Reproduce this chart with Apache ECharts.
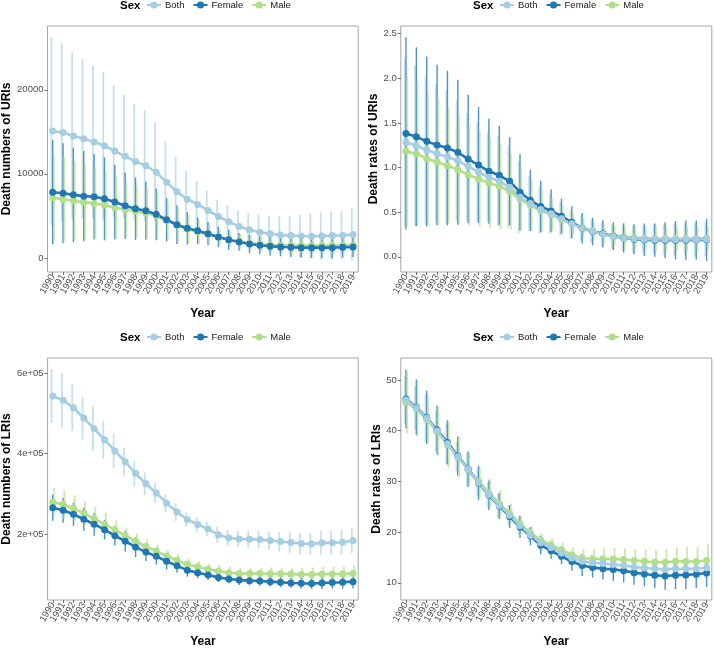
<!DOCTYPE html>
<html><head><meta charset="utf-8">
<script src="https://cdn.jsdelivr.net/npm/echarts@6/dist/echarts.min.js"></script>
<style>html,body{margin:0;padding:0;background:#fff}#c{width:714px;height:649px}</style>
</head><body><div id="c"></div>
<script>
const years = [1990,1991,1992,1993,1994,1995,1996,1997,1998,1999,2000,2001,2002,2003,2004,2005,2006,2007,2008,2009,2010,2011,2012,2013,2014,2015,2016,2017,2018,2019];
const sexes = ['Both','Female','Male'];

// Panel 1: Death numbers of URIs
const uriNumBoth   = [15090,14930,14500,14180,13790,13350,12720,12090,11460,10980,10190,9000,7860,6990,6360,5650,4940,4300,3750,3360,3040,2880,2730,2650,2610,2570,2610,2650,2690,2770];
const uriNumBothHi = [26270,25560,24410,23700,22910,22120,20540,19430,18330,17580,16080,13900,12050,10390,9160,7980,6910,6240,5650,5330,5140,5020,4940,5020,5100,5250,5410,5490,5570,5890];
const uriNumBothLo = [3910,4300,4590,4660,4670,4580,4900,4750,4590,4380,4300,4100,3670,3590,3560,3320,2970,2360,1850,1390,940,740,520,280,120,-110,-190,-190,-190,-350];
const uriNumFem    = [7820,7700,7500,7350,7270,7030,6640,6200,5850,5610,5180,4540,3950,3520,3240,2880,2490,2170,1900,1660,1500,1380,1300,1260,1220,1220,1220,1220,1260,1300];
const uriNumFemHi  = [14020,13630,13110,12720,12360,11970,11100,10150,9560,9050,8260,7110,6240,5450,4820,4270,3710,3360,2960,2770,2570,2490,2410,2410,2410,2450,2490,2490,2490,2490];
const uriNumFemLo  = [1620,1770,1890,1980,2180,2090,2180,2250,2140,2170,2100,1970,1660,1590,1660,1490,1270,980,840,550,430,270,190,110,30,-10,-50,-50,30,110];
const uriNumMale   = [7150,6990,6790,6640,6480,6280,6000,5770,5570,5330,5020,4420,3910,3400,3080,2770,2450,2170,1940,1740,1620,1540,1500,1460,1460,1460,1460,1460,1500,1500];
const uriNumMaleHi = [12250,12050,11460,11140,10670,10270,9680,9090,8690,8300,7820,6720,5930,5140,4540,3950,3440,3080,2800,2650,2490,2410,2410,2410,2410,2410,2410,2410,2410,2410];
const uriNumMaleLo = [2050,1930,2120,2140,2290,2290,2320,2450,2450,2360,2220,2120,1890,1660,1620,1590,1460,1260,1080,830,750,670,590,510,510,510,510,510,590,590];
const uriNumTicks  = [0,10000,20000];

// Panel 2: Death rates of URIs
const uriRateBoth   = [1.282,1.244,1.196,1.155,1.118,1.077,1.013,0.950,0.890,0.846,0.779,0.667,0.596,0.529,0.481,0.425,0.369,0.320,0.287,0.253,0.227,0.212,0.201,0.197,0.194,0.194,0.194,0.194,0.194,0.197];
const uriRateBothHi = [2.224,2.142,2.019,1.934,1.863,1.751,1.610,1.509,1.393,1.349,1.237,1.069,0.902,0.790,0.704,0.615,0.537,0.462,0.417,0.387,0.365,0.358,0.350,0.350,0.358,0.365,0.373,0.373,0.380,0.387];
const uriRateBothLo = [0.340,0.346,0.373,0.376,0.373,0.403,0.416,0.391,0.387,0.343,0.321,0.265,0.290,0.268,0.258,0.235,0.201,0.178,0.157,0.119,0.089,0.066,0.052,0.044,0.030,0.023,0.016,0.016,0.008,0.007];
const uriRateFem    = [1.382,1.345,1.293,1.252,1.218,1.170,1.095,1.028,0.958,0.913,0.846,0.723,0.633,0.563,0.514,0.455,0.387,0.320,0.283,0.257,0.231,0.212,0.197,0.190,0.186,0.186,0.186,0.186,0.190,0.190];
const uriRateFemHi  = [2.459,2.347,2.243,2.150,2.083,1.982,1.815,1.677,1.546,1.468,1.338,1.148,0.976,0.853,0.753,0.652,0.566,0.492,0.436,0.410,0.387,0.376,0.365,0.373,0.373,0.387,0.399,0.406,0.406,0.425];
const uriRateFemLo  = [0.305,0.343,0.343,0.354,0.353,0.358,0.375,0.379,0.370,0.358,0.354,0.298,0.290,0.273,0.275,0.258,0.208,0.148,0.130,0.104,0.075,0.048,0.029,0.007,0.000,-0.015,-0.027,-0.034,-0.030,-0.045];
const uriRateMale   = [1.181,1.155,1.099,1.062,1.021,0.976,0.920,0.872,0.827,0.790,0.734,0.648,0.577,0.518,0.473,0.417,0.373,0.324,0.291,0.261,0.238,0.224,0.216,0.209,0.205,0.205,0.205,0.205,0.205,0.209];
const uriRateMaleHi = [2.019,1.963,1.841,1.766,1.665,1.583,1.490,1.405,1.330,1.274,1.162,1.013,0.864,0.753,0.652,0.577,0.499,0.436,0.391,0.373,0.354,0.343,0.343,0.343,0.343,0.343,0.343,0.343,0.343,0.343];
const uriRateMaleLo = [0.343,0.347,0.357,0.358,0.377,0.369,0.350,0.339,0.324,0.306,0.306,0.283,0.290,0.283,0.294,0.257,0.247,0.212,0.191,0.149,0.122,0.105,0.089,0.075,0.067,0.067,0.067,0.067,0.067,0.075];
const uriRateTicks  = [0,0.5,1,1.5,2,2.5];

// Panel 3: Death numbers of LRIs
const lriNumBoth   = [542800,532200,513500,488100,461200,434300,406500,379600,350200,324900,302000,276700,254700,235900,223700,212200,198400,190200,187700,186900,186100,183700,181200,178800,176300,175500,178000,178000,179600,183700];
const lriNumBothHi = [609800,600000,571400,541200,515900,481600,449000,413900,382000,352600,326500,299600,276700,253100,240800,230200,218000,209800,208200,208200,208200,205700,205700,204100,202400,201600,208200,208200,209800,214700];
const lriNumBothLo = [475800,464400,455600,435000,406500,387000,364000,345300,318400,297200,277500,253800,232700,218700,206600,194200,178800,170600,167200,165600,164000,161700,156700,153500,150200,149400,147800,147800,149400,152700];
const lriNumFem    = [265300,258800,249000,236700,224500,210600,195900,182000,167300,155100,144500,132200,120800,110200,103700,98000,92200,88200,85700,84100,83300,81600,80000,78400,77500,76700,78400,79200,80000,81600];
const lriNumFemHi  = [297900,289800,277500,265300,253100,235100,220400,208200,191800,177100,164900,152600,138000,126500,116700,110200,103700,98800,98000,95500,95500,93900,92200,90600,90600,89800,93900,93900,95500,98000];
const lriNumFemLo  = [232700,227800,220500,208100,195900,186100,171400,155800,142800,133100,124100,111800,103600,93900,90700,85800,80700,77600,73400,72700,71100,69300,67800,66200,64400,63600,62900,64500,64500,65200];
const lriNumMale   = [279200,273500,263700,251400,238400,224500,210600,195900,182000,169000,157500,145300,134700,124900,118400,112600,107800,103700,102000,102000,102000,101200,101200,100400,99600,99600,100400,100400,101200,102000];
const lriNumMaleHi = [314300,308600,296300,281600,267700,253100,234300,216300,201600,187700,173900,160800,149400,138800,132200,126500,122400,118400,116700,116700,116700,116700,116700,115900,115900,116700,118400,118400,118400,122400];
const lriNumMaleLo = [244100,238400,231100,221200,209100,195900,186900,175500,162400,150300,141100,129800,120000,111000,104600,98700,93200,89000,87300,87300,87300,85700,85700,84900,83300,82500,82400,82400,84000,81600];
const lriNumTicks  = [200000,400000,600000];

// Panel 4: Death rates of LRIs
const lriRateBoth   = [46.07,44.52,42.46,39.95,37.44,34.86,32.35,29.77,27.39,25.27,23.33,21.27,19.40,17.92,16.96,15.86,14.90,14.25,13.93,13.80,13.61,13.41,13.09,12.90,12.77,12.64,12.77,12.77,12.77,12.96];
const lriRateBothHi = [50.77,48.84,47.23,44.01,41.43,37.89,35.64,32.42,29.84,27.58,25.33,23.08,20.82,19.53,18.44,17.28,16.31,15.86,15.60,15.54,15.35,15.22,14.96,14.83,14.70,14.57,14.70,14.70,14.70,14.96];
const lriRateBothLo = [41.37,40.20,37.69,35.89,33.45,31.83,29.06,27.12,24.94,22.96,21.33,19.46,17.98,16.31,15.48,14.44,13.49,12.64,12.26,12.06,11.87,11.60,11.22,10.97,10.84,10.71,10.84,10.84,10.84,10.96];
const lriRateFem    = [46.26,44.65,42.59,40.15,37.70,34.99,32.42,29.71,27.26,25.14,23.08,21.01,19.21,17.41,16.31,15.22,14.19,13.41,13.03,12.77,12.64,12.38,12.00,11.74,11.48,11.35,11.48,11.55,11.67,11.93];
const lriRateFemHi  = [52.06,50.13,47.87,44.98,42.08,38.86,35.96,33.06,30.16,27.71,25.33,23.20,21.01,19.21,17.92,16.76,15.99,15.48,15.02,14.90,14.90,14.70,14.38,14.19,14.06,14.06,14.19,14.38,14.38,14.70];
const lriRateFemLo  = [40.46,39.17,37.31,35.32,33.32,31.12,28.88,26.36,24.36,22.57,20.83,18.82,17.41,15.61,14.70,13.68,12.39,11.34,11.04,10.64,10.38,10.06,9.62,9.29,8.90,8.64,8.77,8.72,8.96,9.16];
const lriRateMale   = [45.62,44.33,42.27,39.82,37.25,34.80,32.42,29.97,27.71,25.65,23.72,21.66,19.86,18.44,17.41,16.51,15.48,14.90,14.70,14.70,14.70,14.57,14.38,14.25,14.06,14.06,14.25,14.19,14.19,14.38];
const lriRateMaleHi = [51.74,49.81,46.91,44.65,41.76,38.86,35.64,33.06,30.48,28.23,25.65,23.20,21.14,19.73,18.76,17.92,16.96,16.63,16.63,16.76,16.83,16.76,16.63,16.63,16.51,16.63,16.96,17.09,17.09,17.60];
const lriRateMaleLo = [39.50,38.85,37.63,34.99,32.74,30.74,29.20,26.88,24.94,23.07,21.79,20.12,18.58,17.15,16.06,15.10,14.00,13.17,12.77,12.64,12.57,12.38,12.13,11.87,11.61,11.49,11.54,11.29,11.29,11.16];
const lriRateTicks  = [10,20,30,40,50];

const colors = {Both:'#a6cee3', Female:'#1f78b4', Male:'#b2df8a'};
const dodge = {Both:-0.12, Female:0, Male:0.12};   // fraction of category band
const errWidth = {Both:1.8, Female:1.4, Male:1.8};
const errOpacity = {Both:0.65, Female:0.8, Male:0.7};
const cats = years.map(String);

const panels = [
  {grid:{left:47.5, top:26, width:310.7, height:246}, yr:[-1680,27600], ticks:uriNumTicks, fmt:v=>String(v), name:'Death numbers of URIs', gap:26, legendLeft:146, sexLeft:120, legendTop:0,
   data:{Both:[uriNumBoth,uriNumBothLo,uriNumBothHi], Female:[uriNumFem,uriNumFemLo,uriNumFemHi], Male:[uriNumMale,uriNumMaleLo,uriNumMaleHi]}},
  {grid:{left:400.8, top:26, width:311, height:246}, yr:[-0.17,2.585], ticks:uriRateTicks, fmt:v=>v.toFixed(1), name:'Death rates of URIs', gap:14, legendLeft:499, sexLeft:473, legendTop:0,
   data:{Both:[uriRateBoth,uriRateBothLo,uriRateBothHi], Female:[uriRateFem,uriRateFemLo,uriRateFemHi], Male:[uriRateMale,uriRateMaleLo,uriRateMaleHi]}},
  {grid:{left:47.5, top:358, width:310.7, height:245.5}, yr:[36000,637300], ticks:lriNumTicks, fmt:v=>(v/1e5).toFixed(0)+'e+05', name:'Death numbers of LRIs', gap:26, legendLeft:146, sexLeft:120, legendTop:332,
   data:{Both:[lriNumBoth,lriNumBothLo,lriNumBothHi], Female:[lriNumFem,lriNumFemLo,lriNumFemHi], Male:[lriNumMale,lriNumMaleLo,lriNumMaleHi]}},
  {grid:{left:400.8, top:358, width:311, height:246}, yr:[6.6,54.35], ticks:lriRateTicks, fmt:v=>String(v), name:'Death rates of LRIs', gap:14, legendLeft:499, sexLeft:473, legendTop:332,
   data:{Both:[lriRateBoth,lriRateBothLo,lriRateBothHi], Female:[lriRateFem,lriRateFemLo,lriRateFemHi], Male:[lriRateMale,lriRateMaleLo,lriRateMaleHi]}}
];

const FONT = 'Liberation Sans, Arial, sans-serif';
const option = {animation:false, backgroundColor:'#fff', grid:[], xAxis:[], yAxis:[], series:[], legend:[], title:[]};

panels.forEach((p, gi) => {
  option.grid.push(Object.assign({show:true, borderColor:'#a6a6a6', borderWidth:1, backgroundColor:'transparent', containLabel:false}, p.grid));
  option.xAxis.push({
    type:'category', gridIndex:gi, data:cats, boundaryGap:true, position:'bottom',
    name:'Year', nameLocation:'middle', nameGap:36,
    nameTextStyle:{fontFamily:FONT, fontWeight:'bold', fontSize:12, color:'#000'},
    axisLine:{show:false, onZero:false}, splitLine:{show:false},
    axisTick:{show:true, length:3, alignWithLabel:true, interval:0, lineStyle:{color:'#4d4d4d', width:0.8}},
    axisLabel:{interval:0, rotate:60, margin:3, fontSize:9.5, color:'#4d4d4d', fontFamily:FONT, hideOverlap:false}
  });
  option.yAxis.push({
    type:'value', gridIndex:gi, min:p.yr[0], max:p.yr[1], position:'left',
    name:p.name, nameLocation:'middle', nameGap:p.gap, nameRotate:90,
    nameTextStyle:{fontFamily:FONT, fontWeight:'bold', fontSize:12, color:'#000'},
    axisLine:{show:false, onZero:false}, splitLine:{show:false},
    axisTick:{show:true, length:3, customValues:p.ticks, lineStyle:{color:'#4d4d4d', width:0.8}},
    axisLabel:{customValues:p.ticks, margin:4, fontSize:9.5, color:'#4d4d4d', fontFamily:FONT,
      showMinLabel:true, showMaxLabel:true, formatter:p.fmt}
  });
  sexes.forEach(s => {
    const [mean, lo, hi] = p.data[s];
    const off = dodge[s];
    option.series.push({
      type:'custom', name:'err '+s, xAxisIndex:gi, yAxisIndex:gi, silent:true,
      encode:{x:0, y:[1,2]},
      data: cats.map((c,i)=>[c, lo[i], hi[i]]),
      itemStyle:{color:colors[s]},
      renderItem:(params, api) => {
        const band = api.size([1,0])[0];
        const a = api.coord([api.value(0), api.value(1)]);
        const b = api.coord([api.value(0), api.value(2)]);
        const x = a[0] + off*band;
        return {type:'line', shape:{x1:x, y1:a[1], x2:x, y2:b[1]},
          style:{stroke:colors[s], lineWidth:errWidth[s], opacity:errOpacity[s]}};
      }
    });
  });
  ['Male','Female','Both'].forEach(s => {
    const mean = p.data[s][0];
    option.series.push({
      type:'line', name:s, xAxisIndex:gi, yAxisIndex:gi,
      data: cats.map((c,i)=>[c, mean[i]]),
      symbol:'circle', symbolSize:7, showSymbol:true,
      lineStyle:{color:colors[s], width:2.6},
      itemStyle:{color:colors[s]},
      emphasis:{disabled:true}
    });
  });
  option.legend.push({
    data:sexes, left:p.legendLeft, top:p.legendTop, padding:0, itemGap:8, itemWidth:14, itemHeight:9,
    textStyle:{fontFamily:FONT, fontSize:9.5, color:'#1a1a1a', padding:[0,0,0,-1]}, selectedMode:false
  });
  option.title.push({text:'Sex', left:p.sexLeft, top:p.legendTop, padding:0,
    textStyle:{fontFamily:FONT, fontSize:11.5, fontWeight:'bold', color:'#000'}});
});

const chart = echarts.init(document.getElementById('c'), null, {renderer:'canvas'});
chart.setOption(option);
</script></body></html>
